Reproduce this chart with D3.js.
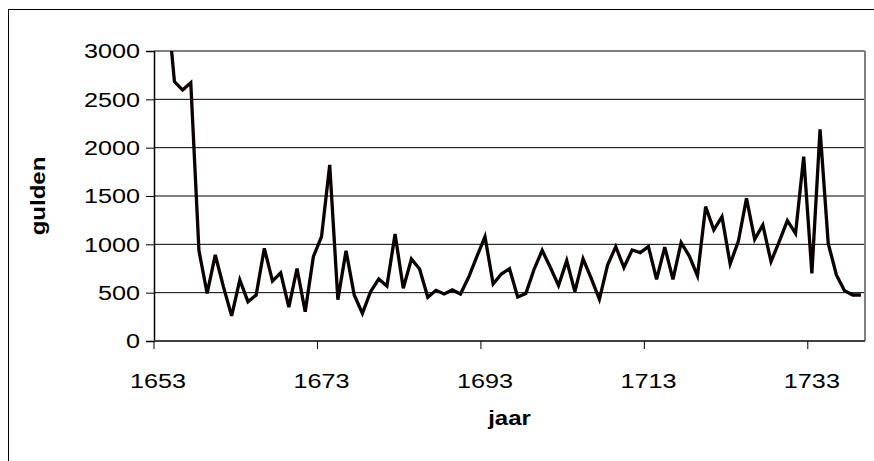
<!DOCTYPE html>
<html>
<head>
<meta charset="utf-8">
<script src="https://cdn.jsdelivr.net/npm/d3@7"></script>
<style>
  body { margin: 0; background: #fff; }
  text { font-family: "Liberation Sans", Arial, sans-serif; }
</style>
</head>
<body>
<div id="vis-container"></div>
<script>

// Set dimensions and margins for plot
const width = 874;
const height = 461;
const margin = {left: 154, right: 9, top: 51, bottom: 120};
const stretch = 1.2; // text in the original is drawn wider than normal

// years on the category axis
const years = d3.range(1653, 1740);

// gulden per year (first two are off the top of the chart)
const gulden = [4200, 3600, 2683, 2596, 2672, 935, 493, 890, 560, 260,
  631, 407, 476, 959, 620, 705, 350, 750, 303, 872,
  1080, 1821, 428, 934, 476, 286, 510, 641, 569, 1107,
  545, 848, 745, 452, 524, 486, 528, 486, 659, 872,
  1079, 590, 693, 748, 455, 490, 740, 938, 760, 574,
  831, 510, 850, 648, 431, 786, 976, 760, 941, 914,
  976, 638, 972, 638, 1017, 879, 675, 1390, 1148, 1286,
  797, 1030, 1476, 1052, 1200, 821, 1027, 1245, 1114, 1907,
  700, 2190, 1010, 683, 520, 476, 476];

const yTicks = [0, 500, 1000, 1500, 2000, 2500, 3000];
const xLabels = [1653, 1673, 1693, 1713, 1733];

const data = years.map((y, i) => ({jaar: y, gulden: gulden[i]}));

const svg = d3
  .select("#vis-container")
  .append("svg")
  .attr("width", width)
  .attr("height", height);

// outer chart border
svg.append("rect")
  .attr("x", 8.5).attr("y", 9.5)
  .attr("width", 900).attr("height", 500)
  .attr("fill", "none")
  .attr("stroke", "#000")
  .attr("stroke-width", 1);

const x = d3.scaleBand()
  .domain(years)
  .range([margin.left, width - margin.right])
  .padding(0);

const y = d3.scaleLinear()
  .domain([0, 3000])
  .range([height - margin.bottom, margin.top]);

const plotBottom = y(0);
const plotRight = width - margin.right;

// gridlines
svg.append("g")
  .selectAll("line")
  .data(yTicks.filter(d => d > 0))
  .join("line")
  .attr("x1", margin.left).attr("x2", plotRight)
  .attr("y1", d => y(d)).attr("y2", d => y(d))
  .attr("stroke", "#000")
  .attr("stroke-width", 1);

// plot area frame (right side)
svg.append("line")
  .attr("x1", plotRight).attr("x2", plotRight)
  .attr("y1", margin.top).attr("y2", plotBottom)
  .attr("stroke", "#808080")
  .attr("stroke-width", 2);

// y-axis
const yAxis = svg.append("g")
  .attr("transform", `translate(${margin.left}, 0)`)
  .call(d3.axisLeft(y).tickValues(yTicks).tickFormat(d3.format("d")).tickSize(8));
yAxis.select(".domain").attr("stroke", "#000").attr("stroke-width", 1.5);
yAxis.selectAll(".tick line").attr("stroke", "#000");
yAxis.selectAll(".tick text")
  .attr("x", -14 / stretch)
  .attr("font-size", "21px")
  .attr("fill", "#000")
  .attr("transform", `scale(${stretch},1)`);

// x-axis: ticks sit between categories, labels centred on the category
const xAxis = svg.append("g")
  .attr("transform", `translate(0, ${plotBottom})`);
xAxis.append("line")
  .attr("x1", margin.left).attr("x2", plotRight)
  .attr("stroke", "#404040")
  .attr("stroke-width", 2);
xAxis.selectAll(".xtick")
  .data(xLabels)
  .join("line")
  .attr("class", "xtick")
  .attr("x1", d => x(d)).attr("x2", d => x(d))
  .attr("y1", 0).attr("y2", 8)
  .attr("stroke", "#000");
xAxis.selectAll(".xlabel")
  .data(xLabels)
  .join("text")
  .attr("class", "xlabel")
  .attr("transform", d => `translate(${x(d) + x.bandwidth() / 2}, 47) scale(${stretch},1)`)
  .attr("text-anchor", "middle")
  .attr("font-size", "21px")
  .text(d => d);

// clip the line to the plot area
svg.append("clipPath")
  .attr("id", "plot-clip")
  .append("rect")
  .attr("x", margin.left).attr("y", margin.top)
  .attr("width", plotRight - margin.left)
  .attr("height", plotBottom - margin.top);

const line = d3.line()
  .x(d => x(d.jaar) + x.bandwidth() / 2)
  .y(d => y(d.gulden));

svg.append("path")
  .datum(data)
  .attr("clip-path", "url(#plot-clip)")
  .attr("fill", "none")
  .attr("stroke", "#0a0000")
  .attr("stroke-width", 3.3)
  .attr("stroke-linejoin", "miter")
  .attr("d", line);

// axis titles
svg.append("text")
  .attr("transform", `translate(45, ${(margin.top + plotBottom) / 2}) rotate(-90) scale(${stretch},1)`)
  .attr("text-anchor", "middle")
  .attr("font-size", "20px")
  .attr("font-weight", "bold")
  .text("gulden");

svg.append("text")
  .attr("transform", `translate(${(margin.left + plotRight) / 2}, 425) scale(${stretch},1)`)
  .attr("text-anchor", "middle")
  .attr("font-size", "20px")
  .attr("font-weight", "bold")
  .text("jaar");

</script>
</body>
</html>
